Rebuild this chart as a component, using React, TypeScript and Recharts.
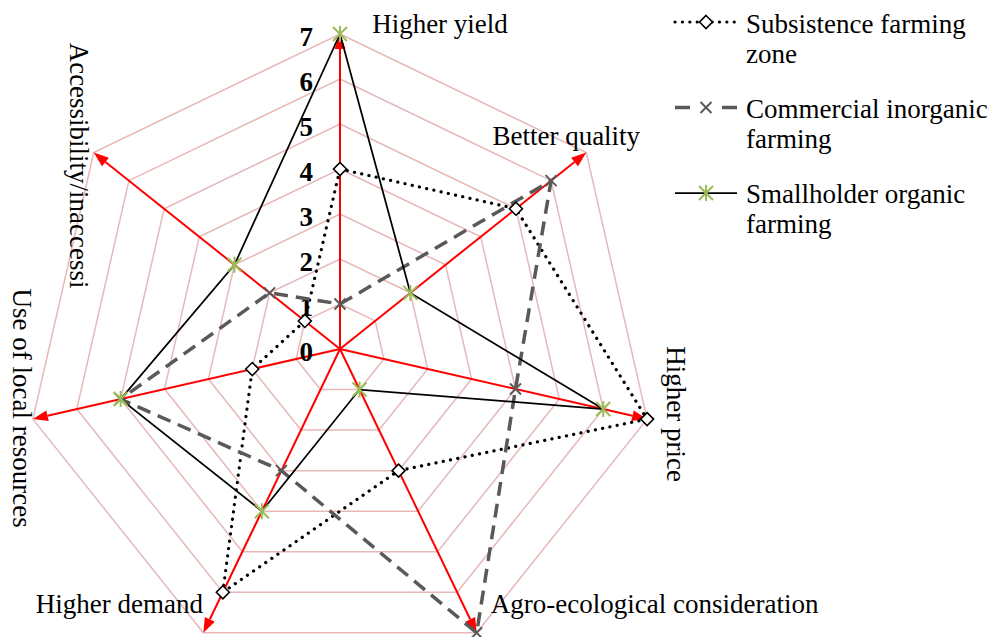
import React from 'react';
import { RadarChart, Radar, PolarGrid, PolarAngleAxis, PolarRadiusAxis } from 'recharts';

// axes go clockwise from the top
const AXES = [
  'Higher yield',
  'Better quality',
  'Higher price',
  'Agro-ecological consideration',
  'Higher demand',
  'Use of local resources',
  'Accessibility/inaccessi',
];
const SUBSISTENCE = [4, 5, 7, 3, 6, 2, 1];
const COMMERCIAL = [1, 6, 4, 7, 3, 5, 2];
const SMALLHOLDER = [7, 2, 6, 1, 4, 5, 3];
const RADIUS_TICKS = [0, 1, 2, 3, 4, 5, 6, 7];
const SERIES_NAMES = ['Subsistence farming zone', 'Commercial inorganic farming', 'Smallholder organic farming'];
const LEGEND_LINES = [
  ['Subsistence farming', 'zone'],
  ['Commercial inorganic', 'farming'],
  ['Smallholder organic', 'farming'],
];

const data = AXES.map((axis, i) => ({
  axis,
  subsistence: SUBSISTENCE[i],
  commercial: COMMERCIAL[i],
  smallholder: SMALLHOLDER[i],
}));

const FONT = '"Liberation Serif", "Times New Roman", serif';
const CX = 340;
const CY = 349;
const R = 315;
const ARROW_LEN = 15;
const ARROW_HALF = 5.5;

// label anchor offsets from the arrow tip, per axis
const LABEL_PLACE = [
  { dx: 100, dy: -1, rot: 0 },
  { dx: -20, dy: -8, rot: 0 },
  { dx: 20, dy: -5, rot: 90 },
  { dx: 178, dy: -20, rot: 0 },
  { dx: -84, dy: -20, rot: 0 },
  { dx: -20, dy: -11, rot: 90 },
  { dx: -24, dy: 13, rot: 90 },
];

const diamond = (x: number, y: number, key?: any) => (
  <path
    key={key}
    d={`M${x},${y - 6.5}L${x + 6.5},${y}L${x},${y + 6.5}L${x - 6.5},${y}Z`}
    fill="#fff"
    stroke="#000"
    strokeWidth={1.6}
  />
);

const cross = (x: number, y: number, key?: any) => (
  <path
    key={key}
    d={`M${x - 5.5},${y - 5.5}L${x + 5.5},${y + 5.5}M${x - 5.5},${y + 5.5}L${x + 5.5},${y - 5.5}`}
    stroke="#595959"
    strokeWidth={2}
    fill="none"
  />
);

const star = (x: number, y: number, key?: any) => (
  <path
    key={key}
    d={`M${x - 7},${y - 7}L${x + 7},${y + 7}M${x - 7},${y + 7}L${x + 7},${y - 7}M${x},${y - 8}L${x},${y + 8}`}
    stroke="#9bbb59"
    strokeWidth={2}
    fill="none"
  />
);

const SERIES = [
  { key: 'subsistence', stroke: '#000', width: 3.2, dash: '0.1 7.3', cap: 'round', marker: diamond },
  { key: 'commercial', stroke: '#595959', width: 3.5, dash: '14 8', cap: 'butt', marker: cross },
  { key: 'smallholder', stroke: '#000', width: 1.75, dash: undefined, cap: 'butt', marker: star },
];

const AngleTick = (props: any) => {
  const { payload, index } = props;
  const a = (payload.coordinate * Math.PI) / 180;
  const ux = Math.cos(a);
  const uy = -Math.sin(a);
  const tipX = CX + R * ux;
  const tipY = CY + R * uy;
  const bx = tipX - ARROW_LEN * ux;
  const by = tipY - ARROW_LEN * uy;
  const px = -uy;
  const py = ux;
  const place = LABEL_PLACE[index];
  const lx = tipX + place.dx;
  const ly = tipY + place.dy;
  return (
    <g>
      <line x1={CX} y1={CY} x2={bx} y2={by} stroke="#ff0000" strokeWidth={2} />
      <polygon
        points={`${tipX},${tipY} ${bx + ARROW_HALF * px},${by + ARROW_HALF * py} ${bx - ARROW_HALF * px},${by - ARROW_HALF * py}`}
        fill="#ff0000"
      />
      <text
        x={lx}
        y={ly}
        textAnchor="middle"
        fontFamily={FONT}
        fontSize={27}
        fill="#000"
        transform={place.rot ? `rotate(${place.rot}, ${lx}, ${ly})` : undefined}
      >
        {payload.value}
      </text>
    </g>
  );
};

const RadiusTick = (props: any) => {
  const { x, y, payload } = props;
  return (
    <text x={x - 27} y={y + 12} textAnchor="end" fontFamily={FONT} fontSize={27} fontWeight="bold" fill="#000">
      {payload.value}
    </text>
  );
};

const LegendBox = () => (
  <svg width={992} height={637} style={{ position: 'absolute', left: 0, top: 0, pointerEvents: 'none' }}>
    {SERIES.map((s, i) => {
      const sy = 22 + i * 85.5;
      const ty = 33 + i * 85;
      return (
        <g key={s.key}>
          <line
            x1={675}
            y1={sy}
            x2={737}
            y2={sy}
            stroke={s.stroke}
            strokeWidth={s.key === 'smallholder' ? 1.75 : s.width}
            strokeDasharray={s.key === 'commercial' ? '15 32' : s.dash}
            strokeLinecap={s.cap as any}
          />
          {s.marker(706, sy)}
          <text x={746} y={ty} fontFamily={FONT} fontSize={27} fill="#000">
            <title>{SERIES_NAMES[i]}</title>
            {LEGEND_LINES[i].map((line, j) => (
              <tspan key={j} x={746} y={ty + j * 30}>
                {line}
              </tspan>
            ))}
          </text>
        </g>
      );
    })}
  </svg>
);

export default function App() {
  return (
    <div style={{ position: 'absolute', left: 0, top: 0, width: 992, height: 637, background: '#fff' }}>
      <RadarChart
        width={992}
        height={637}
        data={data}
        cx={CX}
        cy={CY}
        outerRadius={R}
        margin={{ top: 0, right: 0, bottom: 0, left: 0 }}
      >
        <PolarGrid gridType="polygon" radialLines={false} stroke="#e6b9b8" strokeWidth={1.5} />
        <PolarAngleAxis
          dataKey="axis"
          tick={AngleTick}
          tickLine={false}
          axisLine={false}
          zIndex={-50}
        />
        <PolarRadiusAxis
          angle={90}
          domain={[0, 7]}
          ticks={RADIUS_TICKS as any}
          tickCount={8}
          axisLine={false}
          tickLine={false}
          tick={RadiusTick}
          zIndex={-40}
        />
        {SERIES.map((s, i) => (
          <Radar
            key={s.key}
            name={SERIES_NAMES[i]}
            dataKey={s.key}
            stroke={s.stroke}
            strokeWidth={s.width}
            strokeDasharray={s.dash}
            strokeLinecap={s.cap as any}
            fill="none"
            fillOpacity={0}
            dot={(p: any) => s.marker(p.cx, p.cy, `${s.key}-${p.index}`)}
            isAnimationActive={false}
          />
        ))}
      </RadarChart>
      <LegendBox />
    </div>
  );
}
